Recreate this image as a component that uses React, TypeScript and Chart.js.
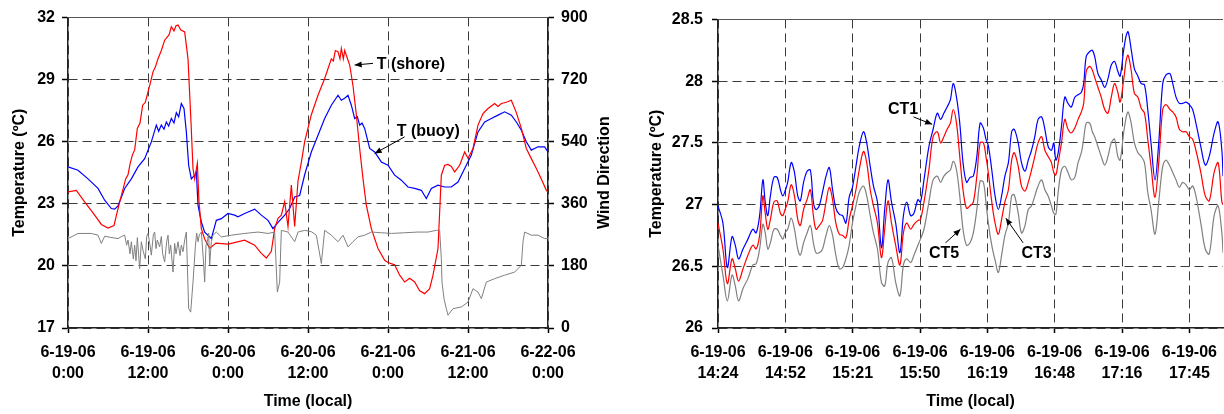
import React, { useEffect, useRef } from "react";
import { Chart, registerables } from "chart.js";

Chart.register(...registerables);

const FONT = "'Liberation Sans', Arial, Helvetica, sans-serif";

// ---------------- Left chart data (hours since 6-19-06 0:00) ----------------
const leftTickHours = [0, 12, 24, 36, 48, 60, 72];
const leftTickDates = ["6-19-06", "6-19-06", "6-20-06", "6-20-06", "6-21-06", "6-21-06", "6-22-06"];
const leftTickTimes = ["0:00", "12:00", "0:00", "12:00", "0:00", "12:00", "0:00"];

const shoreHours = [
  0, 1.25, 2.5, 4, 5, 6, 6.9, 7.5, 8.65, 9, 9.3, 9.65, 10, 10.4, 10.8, 11.2, 11.6, 12, 12.4, 12.75, 13.1, 13.5, 14, 14.5,
  15, 15.2, 15.5, 15.9, 16.2, 16.5, 16.9, 17.5,
  18, 18.4, 18.75, 19, 19.4, 19.65, 20, 20.5, 21.25, 22.2, 24, 26.5, 28, 29, 29.75, 30.5, 31, 31.5, 32, 32.5,
  33, 33.5, 34, 34.5, 35, 35.5, 36.5, 37.5, 38.5, 39.5, 39.8, 40.1, 40.5, 40.8, 41, 41.3, 41.5, 42.25, 42.75, 43.25, 43.75, 44.25,
  44.75, 45.5, 46.5, 47.5, 48, 49, 49.75, 50.5, 51.25, 52, 52.75, 53.5, 54.25, 54.75, 55.5, 56, 56.5, 57,
  57.5, 58, 58.75, 59.5, 60, 60.75, 61.5, 62.25, 63, 64, 64.5, 65, 65.75, 66.5, 67.25, 68, 68.75, 69.5, 70.25, 71,
  71.75, 72,
];
const shoreTemp = [
  23.57, 23.65, 23.09, 22.45, 22.0, 21.83, 21.95, 22.77, 24.2, 24.4, 24.9, 25.35, 25.6, 26.64, 26.9, 27.76, 27.9, 28.4, 28.9, 29.37, 29.6, 30.0, 30.4, 30.9,
  31.1, 31.2, 31.55, 31.35, 31.6, 31.63, 31.4, 31.3,
  30.0, 27.3, 24.7, 24.2, 24.95, 23.1, 21.8, 21.3, 20.85, 21.1, 21.05, 21.24, 21.0, 20.6, 20.38, 20.7, 21.8, 22.3, 22.45, 23.1,
  21.9, 23.9, 21.9, 24.1, 25.0, 26.0, 27.3, 28.24, 29.05, 30.0, 29.9, 30.4, 30.34, 30.0, 30.5, 30.0, 30.4, 29.7, 28.7, 27.3, 25.67, 24.2,
  22.93, 21.8, 20.84, 20.27, 20.16, 20.05, 19.55, 19.22, 19.4, 19.22, 18.8, 18.66, 18.9, 19.55, 20.84, 24.38, 24.86, 24.9,
  24.8, 24.54, 24.86, 25.5, 25.2, 25.67, 26.8, 27.36, 27.6, 27.84, 27.7, 27.84, 27.9, 28.0, 27.4, 26.64, 25.67, 25.18, 24.7, 24.2,
  23.65, 23.57,
];

const buoyHours = [
  0, 1.5, 3, 4.5, 5.5, 6.5, 7, 7.5, 8.5, 9.5, 10.5, 11.5, 12.5, 13.25, 13.6, 14, 14.4, 14.75, 15.1, 15.5, 15.9, 16.25, 16.6, 17, 17.4,
  17.75, 18.1, 18.5, 19, 19.25, 19.5, 20, 20.5, 21.5, 22.25, 23, 24, 25, 25.5, 26.5, 28, 29, 30, 30.75, 31.5,
  32.5, 33.25, 34, 34.75, 35.5, 36.5, 37.5, 38.5, 39.5, 40.5, 41, 41.5, 42, 42.5, 43, 43.4, 43.75, 44.1, 44.5, 45.25, 46,
  47, 48, 49, 50, 51, 52, 53, 53.75, 54.5, 55.5, 56.5, 57.5, 58.5, 59.5, 60.5, 61.5, 62.5, 63.5, 64.5, 65.5,
  66.5, 67.25, 68, 68.75, 69.5, 70.5, 71.5, 72,
];
const buoyTemp = [
  24.78, 24.62, 24.2, 23.74, 23.17, 22.77, 22.74, 22.9, 23.74, 24.2, 24.78, 25.18, 25.99, 26.8, 26.5, 26.8, 26.6, 26.95, 26.75, 27.12, 26.9, 27.4, 27.2, 27.84, 27.6,
  26.47, 24.86, 24.2, 24.38, 24.54, 22.93, 22.12, 21.63, 21.32, 22.2, 22.28, 22.53, 22.45, 22.37, 22.53, 22.74, 22.45, 22.2, 21.8, 22.1,
  22.45, 22.77, 23.33, 23.4, 24.4, 25.5, 26.31, 27.12, 27.76, 28.24, 28.0, 28.1, 28.24, 27.76, 27.12, 27.2, 26.8, 26.9, 26.64, 25.67, 25.5,
  25.02, 24.86, 24.38, 24.14, 23.81, 23.74, 23.65, 23.25, 23.74, 23.9, 23.81, 23.81, 24.05, 24.7, 25.35, 26.47, 26.95, 27.12, 27.28, 27.44,
  27.28, 26.95, 26.55, 25.99, 25.59, 25.75, 25.75, 25.5,
];

const windHours = [
  0, 1.5, 3.5, 4.5, 5, 5.5, 6, 7.5, 8, 8.5, 8.8, 9, 9.3, 9.5, 9.8, 10, 10.2, 10.4, 10.75, 11, 11.25, 11.6, 11.8, 12, 12.3,
  12.5, 12.8, 13, 13.2, 13.4, 13.75, 14, 14.2, 14.5, 14.8, 15, 15.2, 15.4, 15.75, 16, 16.2, 16.5, 16.8, 17, 17.25,
  17.5, 17.75, 18.1, 18.4, 18.75, 19.1, 19.3, 19.5, 19.7, 20, 20.3, 20.5, 20.7, 20.9, 21.1, 21.25, 21.5, 21.75,
  22.25, 23, 24.5, 26.5, 28.5, 30, 31, 31.4, 31.75, 32, 33, 34, 34.5, 35.5, 36.5, 37.25, 38, 38.5, 39.5, 40.5,
  41.25, 42, 42.75, 43.5, 44.5, 45.5, 47, 48.5, 50.5, 52.5, 54, 55.25, 55.75, 56, 56.1, 56.4, 56.75, 57, 57.75,
  59, 60, 60.75, 61.5, 62, 62.75, 64, 65.5, 67, 68, 68.25, 68.5, 69.5, 70.5, 71.5, 72,
];
const windDir = [
  259, 274, 274, 269, 245, 266, 264, 259, 265, 269, 240, 255, 215, 250, 200, 240, 195, 262, 172, 250, 225, 200, 265, 274, 240,
  211, 270, 278, 230, 255, 235, 265, 215, 191, 250, 269, 215, 240, 162, 245, 215, 250, 210, 240, 221,
  255, 278, 56, 46, 133, 235, 275, 250, 270, 278, 200, 133, 240, 250, 275, 182, 250, 269,
  278, 264, 269, 274, 278, 274, 278, 104, 133, 283, 278, 250, 278, 283, 279, 269, 187, 283, 269, 250,
  269, 235, 250, 264, 269, 278, 276, 274, 276, 278, 278, 283, 283, 201, 133, 85, 56, 37, 56,
  61, 75, 114, 104, 85, 133, 143, 153, 162, 182, 250, 278, 269, 269, 259, 259,
];

// ---------------- Right chart data (minutes since 6-19-06 14:24) ----------------
const rightTickMinutes = [0, 28.8, 57.6, 86.4, 115.2, 144, 172.8, 201.6];
const rightTickDates = ["6-19-06", "6-19-06", "6-19-06", "6-19-06", "6-19-06", "6-19-06", "6-19-06", "6-19-06"];
const rightTickTimes = ["14:24", "14:52", "15:21", "15:50", "16:19", "16:48", "17:16", "17:45"];

const ctMinutes = [
  0, 2.1, 4.0, 6.0, 7.4, 8.8, 10.7, 12.8, 14.9, 16.3, 17.8, 19.2, 20.2, 21.3, 22.4, 23.9, 25.3, 26.7, 27.7, 28.7,
  29.8, 31.3, 32.7, 34.1, 35.2, 36.6, 38.1, 39.5, 40.8, 41.9, 43.3, 44.7, 46.2, 47.6, 49.0, 50.4, 51.9, 53.3, 54.7, 56.1,
  57.5, 59.0, 60.4, 62.2, 63.6, 65.1, 66.5, 68.2, 69.9, 71.3, 72.7, 74.2, 76.0, 77.8, 79.3, 80.7, 82.4, 83.8, 85.5, 86.6,
  88.1, 90.2, 92.0, 93.8, 95.2, 96.6, 98.0, 99.4, 100.6, 102.0, 103.4, 104.8, 106.3,
  107.8, 109.2, 110.7, 112.1, 113.5, 114.6, 115.6, 117.1, 118.5, 119.9, 121.3, 122.7, 124.2, 125.6, 126.7, 128.4, 129.8, 131.3, 132.7, 134.1,
  135.5, 136.9, 138.4, 139.8, 141.2, 142.6, 143.6, 144.5, 145.5, 146.9, 148.3, 149.7, 151.1, 152.6, 154.0, 155.4, 156.4, 157.5, 159.0, 160.1,
  161.1, 162.5, 163.9, 165.4, 166.8, 168.2, 169.6, 171.0, 172.0, 173.5, 174.6, 175.4, 176.7, 178.1, 179.6, 181.0, 182.4, 183.8, 185.2, 186.9,
  188.5, 190.2, 191.6, 193.3, 194.5, 195.9, 197.3, 198.7, 200.2, 201.6, 203.0, 204.4, 206.5, 208.4, 210.1, 212.2, 213.9, 215.5, 216,
];
const ct1 = [
  26.99, 26.85, 26.49, 26.74, 26.67, 26.56, 26.64, 26.72, 26.80, 26.77, 26.91, 27.20, 27.02, 26.91, 27.07, 27.22, 27.22, 27.12, 27.07, 27.11,
  27.18, 27.34, 27.26, 27.07, 27.03, 27.18, 27.27, 27.28, 27.02, 26.96, 26.99, 27.10, 27.23, 27.30, 27.12, 26.97, 26.92, 26.91, 26.85, 27.06,
  27.14, 27.31, 27.47, 27.59, 27.50, 27.31, 27.15, 27.02, 26.65, 26.96, 27.20, 27.02, 26.85, 26.61, 26.91, 27.02, 26.91, 26.93, 27.04, 27.02,
  27.20, 27.47, 27.61, 27.74, 27.69, 27.74, 27.79, 27.85, 27.98, 27.87, 27.66, 27.34, 27.18,
  27.22, 27.23, 27.39, 27.66, 27.62, 27.53, 27.48, 27.28, 27.07, 26.96, 27.07, 27.23, 27.34, 27.59, 27.61, 27.50, 27.34, 27.27, 27.36, 27.44,
  27.55, 27.69, 27.71, 27.61, 27.47, 27.44, 27.50, 27.36, 27.42, 27.63, 27.87, 27.82, 27.79, 27.87, 27.89, 27.91, 27.98, 28.20, 28.24, 28.25,
  28.20, 28.06, 28.01, 27.95, 28.02, 28.13, 28.16, 28.08, 28.04, 28.25, 28.37, 28.40, 28.26, 28.10, 28.04, 27.98, 27.97, 27.77, 27.50, 27.20,
  27.50, 27.98, 28.05, 28.06, 27.98, 27.87, 27.82, 27.82, 27.83, 27.81, 27.77, 27.66, 27.47, 27.32, 27.39, 27.58, 27.67, 27.44, 27.23,
];
const ct3 = [
  26.85, 26.64, 26.36, 26.56, 26.48, 26.38, 26.48, 26.59, 26.67, 26.64, 26.75, 27.07, 26.93, 26.80, 26.88, 27.02, 27.03, 26.93, 26.91, 26.96,
  27.02, 27.16, 27.07, 26.88, 26.83, 26.96, 27.04, 27.12, 26.91, 26.80, 26.83, 26.87, 27.02, 27.14, 27.04, 26.85, 26.76, 26.75, 26.73, 26.88,
  26.99, 27.12, 27.28, 27.43, 27.34, 27.12, 26.99, 26.85, 26.57, 26.80, 27.03, 26.85, 26.67, 26.51, 26.77, 26.85, 26.80, 26.84, 26.87, 26.88,
  27.02, 27.28, 27.55, 27.59, 27.50, 27.55, 27.61, 27.66, 27.77, 27.66, 27.39, 27.12, 26.97,
  26.99, 27.02, 27.23, 27.50, 27.50, 27.39, 27.26, 27.02, 26.85, 26.76, 26.88, 27.02, 27.12, 27.36, 27.42, 27.31, 27.15, 27.11, 27.18, 27.28,
  27.39, 27.50, 27.55, 27.44, 27.39, 27.34, 27.26, 27.24, 27.34, 27.50, 27.69, 27.61, 27.58, 27.62, 27.69, 27.75, 27.82, 28.08, 28.12, 28.09,
  28.03, 27.95, 27.87, 27.77, 27.74, 27.87, 27.98, 27.91, 27.83, 28.01, 28.17, 28.21, 28.09, 27.90, 27.87, 27.78, 27.74, 27.53, 27.31, 27.06,
  27.34, 27.77, 27.81, 27.77, 27.75, 27.71, 27.61, 27.59, 27.59, 27.55, 27.53, 27.44, 27.26, 27.07, 27.03, 27.26, 27.34, 27.02, 27.00,
];
const ct5 = [
  26.67, 26.43, 26.22, 26.43, 26.34, 26.22, 26.32, 26.40, 26.51, 26.52, 26.64, 26.84, 26.77, 26.64, 26.69, 26.80, 26.80, 26.75, 26.72, 26.77,
  26.80, 26.89, 26.80, 26.64, 26.59, 26.69, 26.77, 26.83, 26.69, 26.61, 26.61, 26.64, 26.75, 26.83, 26.75, 26.59, 26.48, 26.49, 26.56, 26.67,
  26.85, 26.99, 27.10, 27.15, 27.07, 26.91, 26.77, 26.64, 26.37, 26.34, 26.53, 26.57, 26.37, 26.26, 26.51, 26.56, 26.53, 26.59, 26.67, 26.72,
  26.80, 27.02, 27.20, 27.23, 27.18, 27.23, 27.26, 27.28, 27.35, 27.28, 27.07, 26.80, 26.67,
  26.69, 26.77, 26.96, 27.19, 27.18, 27.02, 26.85, 26.67, 26.55, 26.45, 26.59, 26.75, 26.85, 27.07, 27.08, 26.93, 26.77, 26.83, 26.96, 26.99,
  27.07, 27.15, 27.20, 27.12, 27.07, 26.99, 26.93, 26.92, 27.10, 27.28, 27.31, 27.26, 27.20, 27.22, 27.34, 27.42, 27.53, 27.66, 27.66, 27.59,
  27.55, 27.47, 27.39, 27.32, 27.39, 27.50, 27.53, 27.39, 27.36, 27.58, 27.71, 27.75, 27.66, 27.50, 27.42, 27.39, 27.34, 27.10, 26.96, 26.76,
  27.02, 27.31, 27.36, 27.31, 27.26, 27.20, 27.14, 27.18, 27.16, 27.12, 27.15, 27.07, 26.85, 26.64, 26.60, 26.91, 26.99, 26.77, 26.61,
];

// ---------------- Annotations (data coordinates) ----------------
const leftNotes = [
  { text: "T (shore)", tx: 46.3, ty: 29.7, fx: 45.75, fy: 29.78, ex: 43.0, ey: 29.7 },
  { text: "T (buoy)", tx: 49.3, ty: 26.47, fx: 50.5, fy: 26.23, ex: 46.0, ey: 25.43 },
];
const rightNotes = [
  { text: "CT1", tx: 72.7, ty: 27.77, fx: 83.6, fy: 27.71, ex: 91.6, ey: 27.65 },
  { text: "CT5", tx: 90.2, ty: 26.6, fx: 97.3, fy: 26.69, ex: 103.7, ey: 26.8 },
  { text: "CT3", tx: 129.8, ty: 26.6, fx: 130.5, fy: 26.69, ex: 123.1, ey: 26.89 },
];

const tickFont = { family: FONT, size: 16, weight: "bold" as const, lineHeight: 1.3 };
const titleFont = { family: FONT, size: 16, weight: "bold" as const, lineHeight: 1.2 };

function pts(xs: number[], ys: number[]) {
  return xs.map((x, i) => ({ x, y: ys[i] }));
}

function makeOverlay(notes: any[], yId: string, rightTitle?: { text: string; x: number }) {
  return {
    id: "overlay",
    afterDraw(chart: any) {
      const ctx = chart.ctx;
      const xs = chart.scales.x;
      const ys = chart.scales[yId];
      const ca = chart.chartArea;
      ctx.save();
      ctx.strokeStyle = "#555";
      ctx.lineWidth = 1;
      ctx.beginPath();
      ctx.moveTo(ca.left, Math.round(ca.top) + 0.5);
      ctx.lineTo(ca.right, Math.round(ca.top) + 0.5);
      ctx.stroke();
      ctx.font = `bold 16px ${FONT}`;
      ctx.fillStyle = "#000";
      ctx.strokeStyle = "#000";
      ctx.textBaseline = "middle";
      ctx.textAlign = "left";
      for (const n of notes) {
        ctx.fillText(n.text, xs.getPixelForValue(n.tx), ys.getPixelForValue(n.ty));
        const x0 = xs.getPixelForValue(n.fx);
        const y0 = ys.getPixelForValue(n.fy);
        const x1 = xs.getPixelForValue(n.ex);
        const y1 = ys.getPixelForValue(n.ey);
        ctx.lineWidth = 1;
        ctx.beginPath();
        ctx.moveTo(x0, y0);
        ctx.lineTo(x1, y1);
        ctx.stroke();
        const a = Math.atan2(y1 - y0, x1 - x0);
        const L = 7;
        const W = 3;
        ctx.beginPath();
        ctx.moveTo(x1, y1);
        ctx.lineTo(x1 - L * Math.cos(a) + W * Math.sin(a), y1 - L * Math.sin(a) - W * Math.cos(a));
        ctx.lineTo(x1 - L * Math.cos(a) - W * Math.sin(a), y1 - L * Math.sin(a) + W * Math.cos(a));
        ctx.closePath();
        ctx.fill();
      }
      if (rightTitle) {
        ctx.translate(rightTitle.x, (ca.top + ca.bottom) / 2);
        ctx.rotate(-Math.PI / 2);
        ctx.textAlign = "center";
        ctx.fillText(rightTitle.text, 0, 0);
      }
      ctx.restore();
    },
  };
}

function xScale(min: number, max: number, tickVals: number[], dates: string[], times: string[]) {
  return {
    type: "linear" as const,
    min,
    max,
    afterBuildTicks: (s: any) => {
      s.ticks = tickVals.map((v) => ({ value: v }));
    },
    afterFit: (s: any) => {
      s.height = 86;
    },
    ticks: {
      autoSkip: false,
      maxRotation: 0,
      padding: 9,
      color: "#000",
      font: tickFont,
      callback: (v: any) => {
        const i = tickVals.findIndex((t) => Math.abs(t - v) < 1e-6);
        return i >= 0 ? [dates[i], times[i]] : "";
      },
    },
    grid: { color: "#3a3a3a", lineWidth: 1, tickLength: 5, tickColor: "#000", tickWidth: 1.5 },
    border: { color: "#222", width: 1.5, dash: [9, 5] },
    title: { display: true, text: "Time (local)", color: "#000", font: titleFont, padding: { top: 0, bottom: 3 } },
  };
}

function LeftChart() {
  const ref = useRef<HTMLCanvasElement>(null);
  useEffect(() => {
    if (!ref.current) return;
    const chart = new Chart(ref.current, {
      type: "line",
      data: {
        datasets: [
          { data: pts(windHours, windDir), yAxisID: "y1", borderColor: "#808080", borderWidth: 1, pointRadius: 0, tension: 0 },
          { data: pts(shoreHours, shoreTemp), yAxisID: "y", borderColor: "#ff0000", borderWidth: 1.2, pointRadius: 0, tension: 0 },
          { data: pts(buoyHours, buoyTemp), yAxisID: "y", borderColor: "#0000ff", borderWidth: 1.2, pointRadius: 0, tension: 0 },
        ],
      },
      options: {
        responsive: false,
        animation: false,
        layout: { padding: { top: 17, left: 0, right: 0, bottom: 0 } },
        plugins: { legend: { display: false }, tooltip: { enabled: false } },
        scales: {
          x: xScale(0, 72, leftTickHours, leftTickDates, leftTickTimes),
          y: {
            position: "left",
            min: 17,
            max: 32,
            afterFit: (s: any) => {
              s.width = 68;
            },
            ticks: { stepSize: 3, padding: 7, color: "#000", font: tickFont },
            grid: { color: "#3a3a3a", lineWidth: 1, tickLength: 6, tickColor: "#000", tickWidth: 1.5 },
            border: { color: "#222", width: 1.5, dash: [9, 5] },
            title: { display: true, text: "Temperature (ºC)", color: "#000", font: titleFont, padding: { top: 10, bottom: 0 } },
          },
          y1: {
            position: "right",
            min: 0,
            max: 900,
            afterFit: (s: any) => {
              s.width = 72;
            },
            ticks: { stepSize: 180, padding: 7, color: "#000", font: tickFont },
            grid: { drawOnChartArea: false, tickLength: 6, tickColor: "#000", tickWidth: 1.5 },
            border: { color: "#222", width: 1.5 },
          },
        },
      } as any,
      plugins: [makeOverlay(leftNotes, "y", { text: "Wind Direction", x: 605 })],
    });
    return () => chart.destroy();
  }, []);
  return <canvas ref={ref} width={620} height={414} style={{ position: "absolute", left: 0, top: 0, width: 620, height: 414 }} />;
}

function RightChart() {
  const ref = useRef<HTMLCanvasElement>(null);
  useEffect(() => {
    if (!ref.current) return;
    const chart = new Chart(ref.current, {
      type: "line",
      data: {
        datasets: [
          { data: pts(ctMinutes, ct5), borderColor: "#808080", borderWidth: 1.2, pointRadius: 0, tension: 0.35 },
          { data: pts(ctMinutes, ct3), borderColor: "#ff0000", borderWidth: 1.2, pointRadius: 0, tension: 0.35 },
          { data: pts(ctMinutes, ct1), borderColor: "#0000ff", borderWidth: 1.2, pointRadius: 0, tension: 0.35 },
        ],
      },
      options: {
        responsive: false,
        animation: false,
        layout: { padding: { top: 17, left: 0, right: 1, bottom: 0 } },
        plugins: { legend: { display: false }, tooltip: { enabled: false } },
        scales: {
          x: xScale(0, 216, rightTickMinutes, rightTickDates, rightTickTimes),
          y: {
            position: "left",
            min: 26,
            max: 28.5,
            afterFit: (s: any) => {
              s.width = 98;
            },
            ticks: { stepSize: 0.5, padding: 9, color: "#000", font: tickFont, callback: (v: any) => `${Number(v)}` },
            grid: { color: "#3a3a3a", lineWidth: 1, tickLength: 6, tickColor: "#000", tickWidth: 1.5 },
            border: { color: "#222", width: 1.5, dash: [9, 5] },
            title: { display: true, text: "Temperature (ºC)", color: "#000", font: titleFont, padding: { top: 27, bottom: 0 } },
          },
        },
      } as any,
      plugins: [makeOverlay(rightNotes, "y")],
    });
    return () => chart.destroy();
  }, []);
  return <canvas ref={ref} width={606} height={414} style={{ position: "absolute", left: 620, top: 0, width: 606, height: 414 }} />;
}

export default function App() {
  return (
    <div style={{ position: "absolute", left: 0, top: 0, width: 1224, height: 414, overflow: "hidden", background: "#fff" }}>
      <LeftChart />
      <RightChart />
    </div>
  );
}
